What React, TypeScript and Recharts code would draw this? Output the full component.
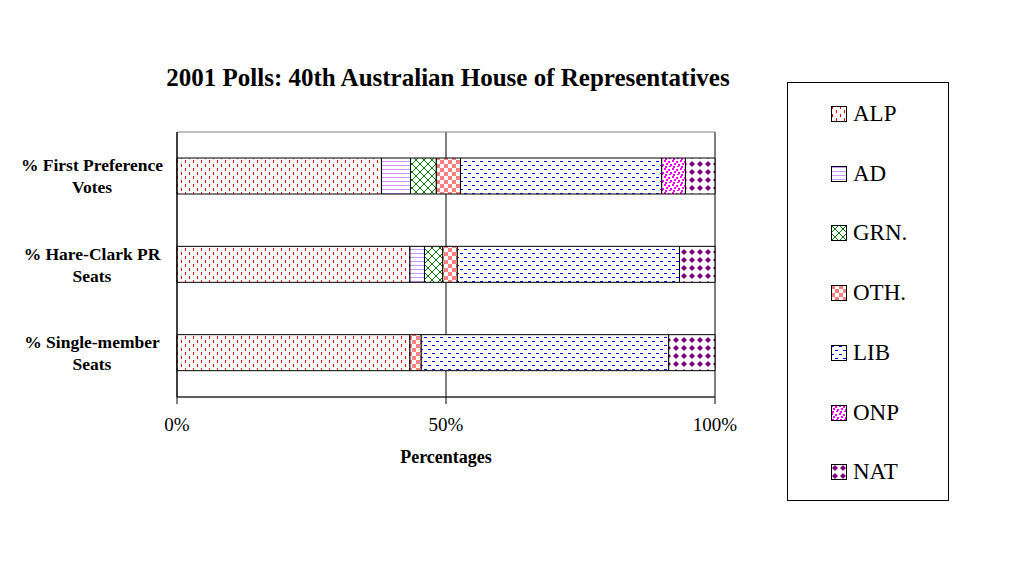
import React from "react"
import { BarChart, Bar, XAxis, YAxis, CartesianGrid, ReferenceArea } from "recharts"

const categories = ["% First Preference|Votes", "% Hare-Clark PR|Seats", "% Single-member|Seats"]
const parties = ["ALP", "AD", "GRN.", "OTH.", "LIB", "ONP", "NAT"]
const alp = [38.0, 43.3, 43.3]
const ad = [5.4, 2.7, 0]
const grn = [4.8, 3.4, 0]
const oth = [4.5, 2.7, 2.1]
const lib = [37.4, 41.3, 46.0]
const onp = [4.4, 0, 0]
const nat = [5.5, 6.6, 8.6]
const xTicks = [0, 50, 100]
const rowEdges = [0, 1, 2, 3]

const keys = ["alp", "ad", "grn", "oth", "lib", "onp", "nat"]
const data = categories.map((name, i) => ({
  name,
  alp: alp[i],
  ad: ad[i],
  grn: grn[i],
  oth: oth[i],
  lib: lib[i],
  onp: onp[i],
  nat: nat[i],
}))

const FONT = '"Times New Roman", "Liberation Serif", serif'

function Patterns() {
  return (
    <svg width={0} height={0} style={{ position: "absolute" }}>
      <defs>
        <pattern id="p-alp" width={8} height={8} patternUnits="userSpaceOnUse">
          <rect width={8} height={8} fill="#fff" />
          <rect x={1} y={0} width={1} height={3} fill="#ff0000" />
          <rect x={5} y={4} width={1} height={3} fill="#ff0000" />
        </pattern>
        <pattern id="p-ad" width={4} height={4} patternUnits="userSpaceOnUse">
          <rect width={4} height={4} fill="#fff" />
          <rect x={0} y={1} width={4} height={1} fill="#cc99ff" />
        </pattern>
        <pattern id="p-grn" width={8} height={8} patternUnits="userSpaceOnUse">
          <rect width={8} height={8} fill="#fff" />
          <path d="M0 0 L8 8 M8 0 L0 8" stroke="#008000" strokeWidth={1} />
        </pattern>
        <pattern id="p-oth" width={8} height={8} patternUnits="userSpaceOnUse">
          <rect width={8} height={8} fill="#fff" />
          <rect x={0} y={0} width={4} height={4} fill="#ff8080" />
          <rect x={4} y={4} width={4} height={4} fill="#ff8080" />
        </pattern>
        <pattern id="p-lib" width={8} height={8} patternUnits="userSpaceOnUse">
          <rect width={8} height={8} fill="#fff" />
          <rect x={0} y={1} width={3} height={1} fill="#0000ff" />
          <rect x={4} y={5} width={3} height={1} fill="#0000ff" />
        </pattern>
        <pattern id="p-onp" width={8} height={8} patternUnits="userSpaceOnUse">
          <rect width={8} height={8} fill="#fff" />
          <rect x={0} y={0} width={2} height={2} fill="#ff00ff" />
          <rect x={4} y={1} width={2} height={2} fill="#ff00ff" />
          <rect x={2} y={3} width={2} height={2} fill="#ff00ff" />
          <rect x={6} y={4} width={2} height={2} fill="#ff00ff" />
          <rect x={1} y={6} width={2} height={2} fill="#ff00ff" />
          <rect x={5} y={6} width={2} height={1} fill="#ff00ff" />
        </pattern>
        <pattern id="p-nat" width={8} height={8} patternUnits="userSpaceOnUse">
          <rect width={8} height={8} fill="#fff" />
          <polygon points="4,1 7,4 4,7 1,4" fill="#800080" />
        </pattern>
      </defs>
    </svg>
  )
}

function CategoryTick(props: any) {
  const { x, y, payload } = props
  const lines = String(payload.value).split("|")
  return (
    <g>
      {lines.map((l, i) => (
        <text
          key={i}
          x={x - 85}
          y={y - 11 + i * 22}
          dy="0.35em"
          textAnchor="middle"
          fontFamily={FONT}
          fontSize={17.5}
          fontWeight="bold"
          fill="#000"
        >
          {l}
        </text>
      ))}
    </g>
  )
}

export default function App() {
  return (
    <div style={{ position: "relative", width: 1004, height: 550, fontFamily: FONT }}>
      <Patterns />
      <div
        style={{
          position: "absolute",
          left: 90,
          top: 57,
          width: 700,
          textAlign: "center",
          fontSize: 25,
          fontWeight: "bold",
          lineHeight: "26px",
        }}
      >
        2001 Polls: 40th Australian House of Representatives
      </div>
      <BarChart
        width={1004}
        height={550}
        data={data}
        layout="vertical"
        margin={{ top: 124, right: 297, left: 0, bottom: 121 }}
      >
        <CartesianGrid horizontal={false} stroke="#000" yAxisId="cat" />
        <XAxis
          type="number"
          domain={[0, 100]}
          ticks={xTicks}
          tickFormatter={(v) => v + "%"}
          height={40}
          stroke="#000"
          tickSize={7}
          tickMargin={14}
          tick={{ fontFamily: FONT, fontSize: 19, fill: "#000" }}
        />
        <YAxis
          yAxisId="edge"
          type="number"
          domain={[0, 3]}
          ticks={rowEdges}
          width={0}
          axisLine={false}
          tickSize={5}
          stroke="#000"
          tickFormatter={() => ""}
        />
        <YAxis
          yAxisId="cat"
          type="category"
          dataKey="name"
          width={169}
          stroke="#000"
          tickLine={false}
          tickSize={0}
          tickMargin={0}
          tick={<CategoryTick />}
        />
        <ReferenceArea yAxisId="cat" x1={0} x2={100} fill="none" stroke="#808080" />
        {keys.map((k) => (
          <Bar
            key={k}
            dataKey={k}
            yAxisId="cat"
            stackId="a"
            barSize={36}
            fill={`url(#p-${k})`}
            stroke="#000"
            strokeWidth={1}
            isAnimationActive={false}
          />
        ))}
      </BarChart>
      <div
        style={{
          position: "absolute",
          left: 338,
          top: 439,
          width: 200,
          textAlign: "center",
          fontSize: 18,
          fontWeight: "bold",
          lineHeight: "20px",
        }}
      >
        Percentages
      </div>
      <div
        style={{
          position: "absolute",
          left: 779,
          top: 74,
          width: 160,
          height: 417,
          border: "1px solid #000",
          background: "#fff",
        }}
      >
        {parties.map((p, i) => (
          <div
            key={p}
            style={{
              position: "absolute",
              left: 43,
              top: 31 + i * 59.7 - 14,
              height: 28,
              display: "flex",
              alignItems: "center",
            }}
          >
            <svg width={16} height={16} style={{ display: "block" }}>
              <rect x={0.5} y={0.5} width={15} height={15} fill={`url(#p-${keys[i]})`} stroke="#000" />
            </svg>
            <span style={{ marginLeft: 6, fontSize: 23, lineHeight: "28px" }}>{p}</span>
          </div>
        ))}
      </div>
    </div>
  )
}
